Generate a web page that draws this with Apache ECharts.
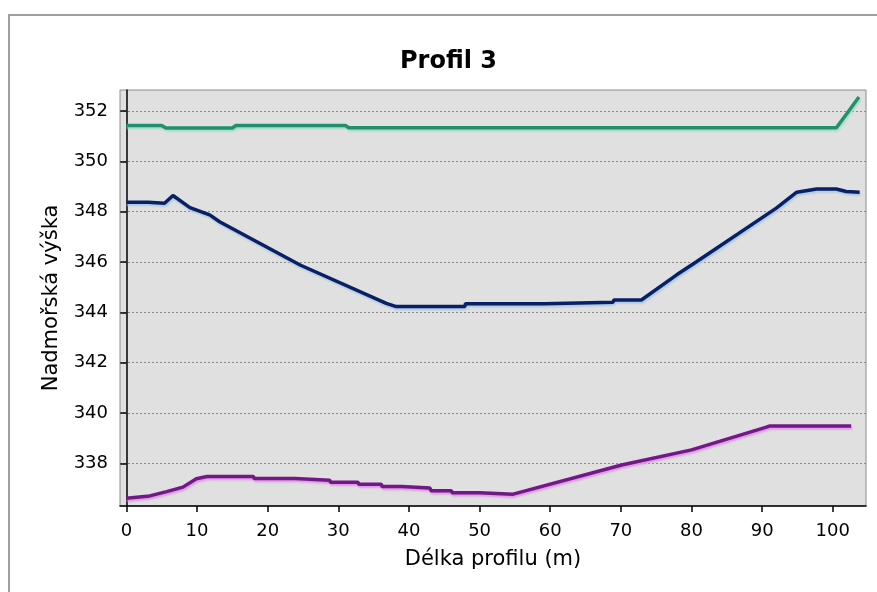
<!DOCTYPE html>
<html>
<head>
<meta charset="utf-8">
<script src="https://cdn.jsdelivr.net/npm/echarts@6/dist/echarts.min.js"></script>
<style>
  html, body { margin: 0; padding: 0; background: #fff; }
  #ec { width: 877px; height: 592px; }
</style>
</head>
<body>
<div id="ec"></div>
<script>
// hodnoty: [delka (m), vyska]
var topLine = [
  [0, 351.42], [5, 351.42], [5.6, 351.32], [15, 351.32], [15.5, 351.42],
  [31, 351.42], [31.5, 351.33], [100.5, 351.33], [102, 351.9], [103.7, 352.55]
];
var midLine = [
  [0, 348.37], [3.1, 348.37], [3.2, 348.33], [5.4, 348.33], [6.6, 348.64],
  [9, 348.16], [11.8, 347.87], [13.2, 347.6], [24.6, 345.88], [36.8, 344.36],
  [38.2, 344.23], [47.9, 344.23], [48, 344.34], [59.2, 344.34], [59.3, 344.4],
  [68.9, 344.4], [69, 344.49], [72.9, 344.49], [77.9, 345.49], [80.7, 346.01],
  [92, 348.14], [94.9, 348.77], [97.7, 348.9], [100.5, 348.9], [101.9, 348.8],
  [103.8, 348.77]
];
var bottomLine = [
  [0, 336.62], [3.3, 336.71], [5.7, 336.88], [8, 337.06], [9.9, 337.39],
  [11.4, 337.48], [18, 337.48], [18.1, 337.4], [23.9, 337.4], [24, 337.33],
  [28.8, 337.33], [28.9, 337.25], [32.8, 337.25], [32.9, 337.17], [36.1, 337.17],
  [36.2, 337.08], [39, 337.08], [39.1, 337.02], [43, 337.02], [43.1, 336.92],
  [46, 336.92], [46.1, 336.84], [50, 336.84], [50.1, 336.78], [54.75, 336.78],
  [70.1, 337.94], [80, 338.54], [90.6, 339.44], [91.1, 339.49], [102.6, 339.49]
];
var xTicks = [0, 10, 20, 30, 40, 50, 60, 70, 80, 90, 100];
var yTicks = [338, 340, 342, 344, 346, 348, 350, 352];

var font = '"DejaVu Sans", sans-serif';
var myChart = echarts.init(document.getElementById('ec'));

function lineSeries(data, color, halo) {
  return {
    type: 'line',
    data: data,
    showSymbol: false,
    symbol: 'none',
    animation: false,
    lineStyle: {
      color: color,
      width: 3.5,
      shadowColor: halo,
      shadowBlur: 2,
      shadowOffsetX: 1,
      shadowOffsetY: 2
    }
  };
}

myChart.setOption({
  backgroundColor: '#fff',
  animation: false,
  title: {
    text: 'Profil 3',
    left: 395,
    top: 45,
    textStyle: { fontFamily: font, fontSize: 24, fontWeight: 'bold', color: '#000' }
  },
  graphic: [{
    type: 'rect',
    shape: { x: 9, y: 15, width: 900, height: 620 },
    style: { fill: null, stroke: '#a0a0a0', lineWidth: 2 },
    silent: true
  }],
  grid: {
    left: 120,
    right: 11,
    top: 90,
    bottom: 86,
    show: true,
    backgroundColor: '#e0e0e0',
    borderColor: '#8c8c8c',
    borderWidth: 1
  },
  xAxis: {
    type: 'value',
    min: -0.9,
    max: 104.7,
    name: 'Délka profilu (m)',
    nameLocation: 'middle',
    nameGap: 43,
    nameTextStyle: { fontFamily: font, fontSize: 21, color: '#000' },
    axisLine: { show: true, onZero: false, lineStyle: { color: '#000', width: 1.5 } },
    axisTick: {
      show: true, length: 6, lineStyle: { color: '#000', width: 1.5 },
      customValues: xTicks
    },
    axisLabel: {
      fontFamily: font, fontSize: 18, color: '#000', margin: 16,
      customValues: xTicks
    },
    splitLine: { show: false }
  },
  yAxis: {
    type: 'value',
    min: 336.31,
    max: 352.83,
    name: 'Nadmořská výška',
    nameLocation: 'middle',
    nameGap: 58,
    nameTextStyle: { fontFamily: font, fontSize: 21, color: '#000' },
    axisLine: { show: true, lineStyle: { color: '#000', width: 1.5 } },
    axisTick: {
      show: true, length: 6, lineStyle: { color: '#000', width: 1.5 },
      customValues: yTicks
    },
    axisLabel: {
      fontFamily: font, fontSize: 18, color: '#000', margin: 12,
      customValues: yTicks
    },
    splitLine: {
      show: true,
      customValues: yTicks,
      lineStyle: { color: '#8a8a8a', type: [2, 2], width: 1 }
    }
  },
  series: [
    lineSeries(topLine, '#2e8a6e', '#8fe6c6'),
    lineSeries(midLine, '#0d1f5c', '#a9c8f0'),
    lineSeries(bottomLine, '#6b1f7d', '#ea8ff5')
  ]
});
</script>
</body>
</html>
